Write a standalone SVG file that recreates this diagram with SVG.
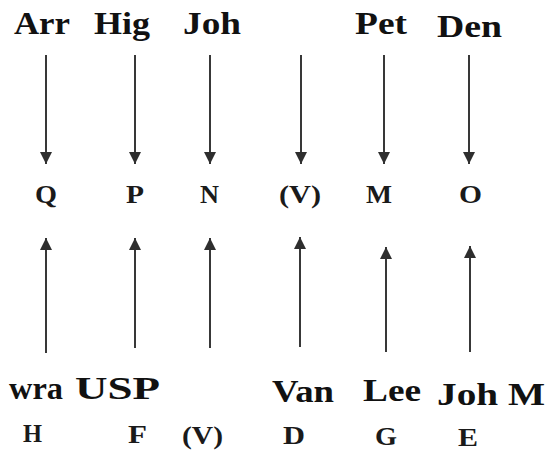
<svg xmlns="http://www.w3.org/2000/svg" width="548" height="452" viewBox="0 0 548 452">
<defs>
<marker id="ah" viewBox="0 0 10 10" refX="10" refY="5" markerWidth="6" markerHeight="6" markerUnits="strokeWidth" orient="auto">
<path d="M0,0 L10,5 L0,10 Z" fill="#2e2e2e"/>
</marker>
<style>
.big{font-family:"Liberation Serif","Times New Roman",serif;font-weight:bold;font-size:31px;fill:#111111}
.sm{font-family:"Liberation Serif","Times New Roman",serif;font-weight:bold;font-size:26px;fill:#1a1a1a}
.c{stroke:#383838;stroke-width:2;fill:none;marker-end:url(#ah)}
</style>
</defs>
<rect width="548" height="452" fill="#ffffff"/>
<g id="connectors">
<line class="c" x1="46" y1="55" x2="46" y2="164"/>
<line class="c" x1="135" y1="55" x2="135" y2="164"/>
<line class="c" x1="210" y1="55" x2="210" y2="164"/>
<line class="c" x1="301" y1="55" x2="301" y2="164"/>
<line class="c" x1="384" y1="55" x2="384" y2="164"/>
<line class="c" x1="469" y1="55" x2="469" y2="164"/>
<line class="c" x1="46" y1="353" x2="46" y2="238"/>
<line class="c" x1="135" y1="348" x2="135" y2="238"/>
<line class="c" x1="210" y1="348" x2="210" y2="238"/>
<line class="c" x1="300" y1="347" x2="300" y2="237"/>
<line class="c" x1="386" y1="352" x2="386" y2="247"/>
<line class="c" x1="470" y1="352" x2="470" y2="246"/>
</g>
<g id="Arr"><text class="big" x="14" y="34" textLength="56" lengthAdjust="spacingAndGlyphs">Arr</text></g>
<g id="Hig"><text class="big" x="94" y="34" textLength="56" lengthAdjust="spacingAndGlyphs">Hig</text></g>
<g id="Joh"><text class="big" x="183" y="34" textLength="58" lengthAdjust="spacingAndGlyphs">Joh</text></g>
<g id="Pet"><text class="big" x="355" y="34" textLength="52" lengthAdjust="spacingAndGlyphs">Pet</text></g>
<g id="Den"><text class="big" x="437" y="37" textLength="65" lengthAdjust="spacingAndGlyphs">Den</text></g>
<g id="Q"><text class="sm" x="35" y="203" textLength="22" lengthAdjust="spacingAndGlyphs">Q</text></g>
<g id="P"><text class="sm" x="126" y="203" textLength="18" lengthAdjust="spacingAndGlyphs">P</text></g>
<g id="N"><text class="sm" x="200" y="203" textLength="19" lengthAdjust="spacingAndGlyphs">N</text></g>
<g id="V-top"><text class="sm" x="279" y="203" textLength="42" lengthAdjust="spacingAndGlyphs">(V)</text></g>
<g id="M"><text class="sm" x="366" y="203" textLength="26" lengthAdjust="spacingAndGlyphs">M</text></g>
<g id="O"><text class="sm" x="459" y="203" textLength="23" lengthAdjust="spacingAndGlyphs">O</text></g>
<g id="wra"><text class="big" x="9" y="399" textLength="54" lengthAdjust="spacingAndGlyphs">wra</text></g>
<g id="USP"><text class="big" x="75" y="399" textLength="85" lengthAdjust="spacingAndGlyphs">USP</text></g>
<g id="Van"><text class="big" x="272" y="402" textLength="62" lengthAdjust="spacingAndGlyphs">Van</text></g>
<g id="Lee"><text class="big" x="363" y="401" textLength="58" lengthAdjust="spacingAndGlyphs">Lee</text></g>
<g id="JohM"><text class="big" x="437" y="405" textLength="108" lengthAdjust="spacingAndGlyphs">Joh M</text></g>
<g id="H"><text class="sm" x="23" y="442" textLength="19" lengthAdjust="spacingAndGlyphs">H</text></g>
<g id="F"><text class="sm" x="128" y="443" textLength="19" lengthAdjust="spacingAndGlyphs">F</text></g>
<g id="V-bottom"><text class="sm" x="182" y="444" textLength="41" lengthAdjust="spacingAndGlyphs">(V)</text></g>
<g id="D"><text class="sm" x="283" y="444" textLength="22" lengthAdjust="spacingAndGlyphs">D</text></g>
<g id="G"><text class="sm" x="375" y="445" textLength="22" lengthAdjust="spacingAndGlyphs">G</text></g>
<g id="E"><text class="sm" x="458" y="446" textLength="20" lengthAdjust="spacingAndGlyphs">E</text></g>
</svg>
